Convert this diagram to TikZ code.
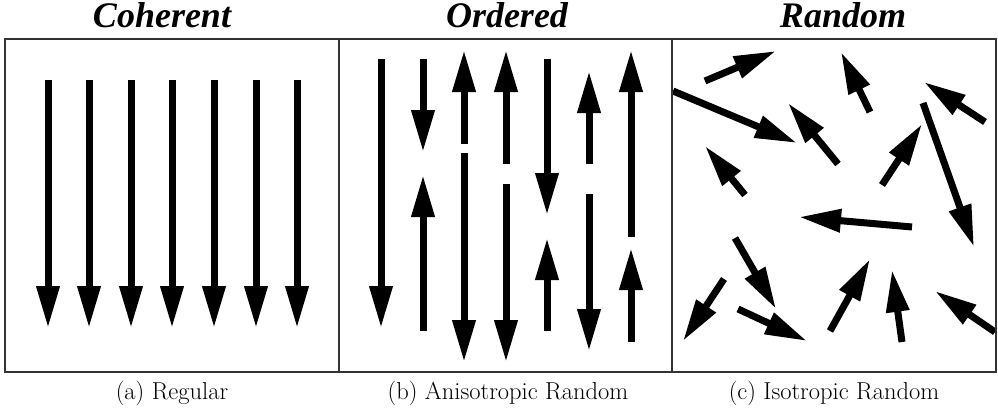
\documentclass[tikz,border=0pt]{standalone}
\usepackage{fontspec}
\newfontfamily\headfont{Liberation Serif}
\usetikzlibrary{arrows.meta}
\tikzset{vec/.style={line width=7pt,-{Triangle[length=42pt,width=22pt]}},
  panel/.style={draw=black!80,line width=1.3pt},
  head/.style={font=\headfont\fontsize{36}{40}\selectfont\bfseries\itshape,anchor=base},
  capt/.style={font=\fontsize{24.5}{28}\selectfont}}

\begin{document}
\begin{tikzpicture}[x=1pt,y=-1pt]
\useasboundingbox (0,0) rectangle (998,412);
% coherent: all parallel, same sense
\foreach \x in {48,89,131,172,214,256,297} \draw[vec] (\x,80) -- (\x,328);
% ordered: parallel, random sense and length
\foreach \x/\a/\b in {381/59/328,423/59/152,423/331/175,464/144/50,464/153/362,
  506/164/50,506/184/362,547/59/215,547/331/238,589/164/71,589/194/351,
  631/237/50,631/342/248}
  \draw[vec] (\x,\a) -- (\x,\b);
% random: any direction
\foreach \a/\b/\c/\d in {705/81/776/51,673/91/797/143,870/112/841/52,985/122/924/82,
  838/164/788/103,923/103/974/247,882/185/922/124,745/195/705/146,912/227/799/217,
  735/238/776/309,724/279/683/341,738/309/807/341,830/331/870/259,902/342/892/270,
  995/332/935/291}
  \draw[vec] (\a,\b) -- (\c,\d);
% frames
\draw[panel] (5,39) rectangle (339,372);
\draw[panel] (339,39) rectangle (672,372);
\draw[panel] (672,39) rectangle (996,372);
\node[head] (tcoh) at (162,28) {Coherent};
\node[head] (tord) at (507,28) {Ordered};
\node[head] (tran) at (843,28) {Random};
\node[capt] (capa) at (172,393) {(a) Regular};
\node[capt] (capb) at (508,393) {(b) Anisotropic Random};
\node[capt] (capc) at (834,393) {(c) Isotropic Random};
\end{tikzpicture}
\end{document}
